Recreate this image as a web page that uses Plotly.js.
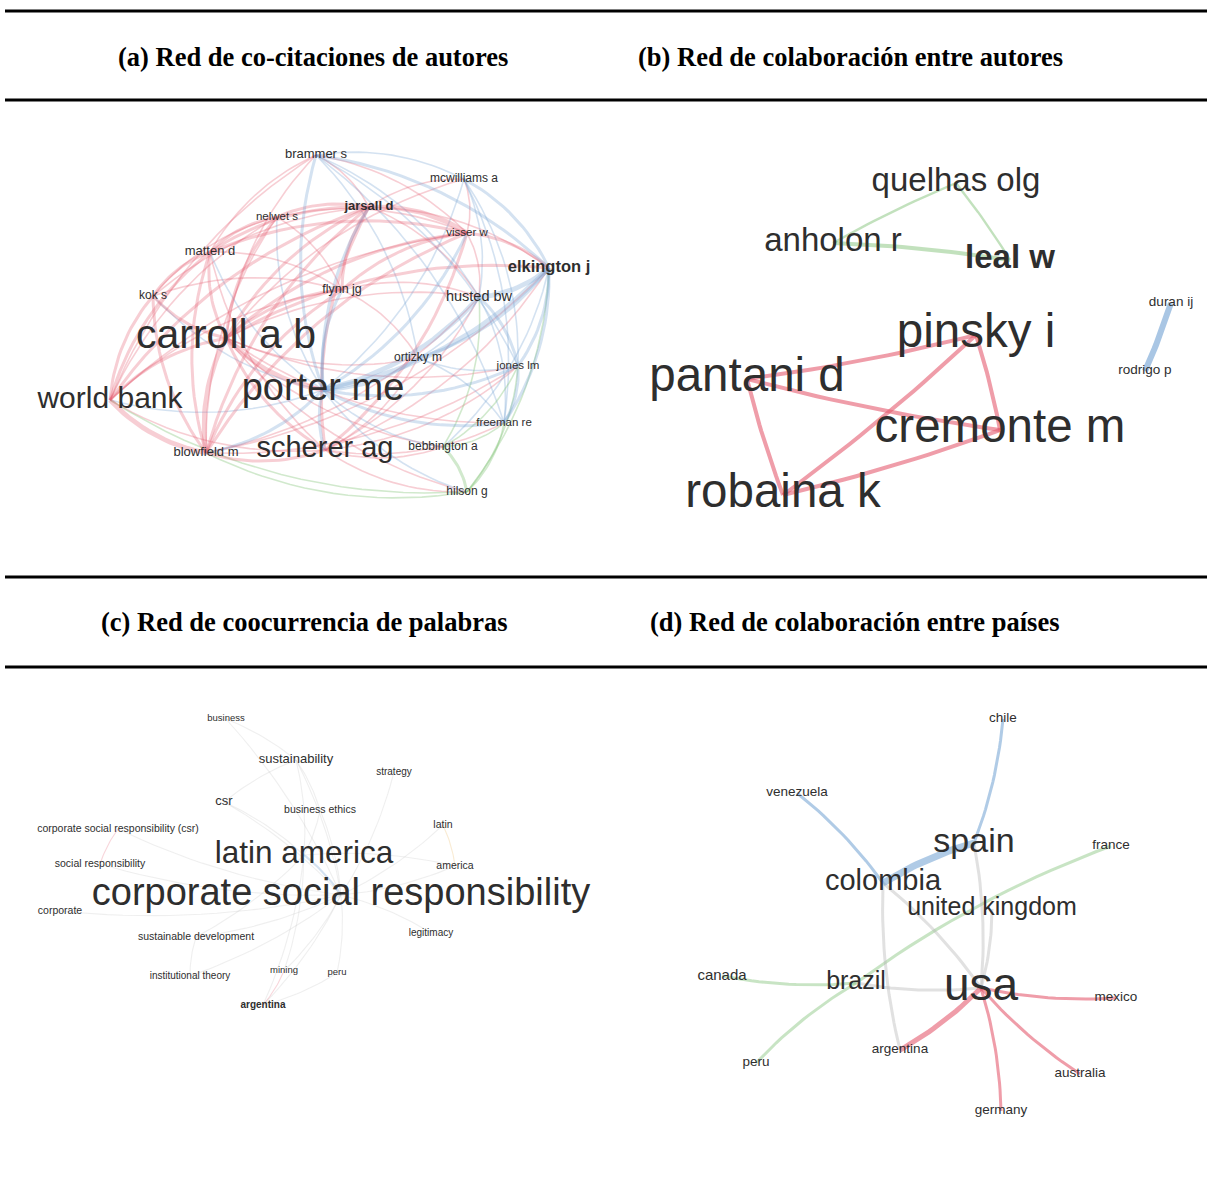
<!DOCTYPE html>
<html>
<head>
<meta charset="utf-8">
<script src="https://cdn.plot.ly/plotly-3.0.1.min.js"></script>
<style>html,body{margin:0;padding:0;background:#fff}#chart{width:1212px;height:1199px}</style>
</head>
<body>
<div id="chart"></div>
<script>
// ---------------- DATA ----------------
const panelTitles = [
  "(a) Red de co-citaciones de autores",
  "(b) Red de colaboración entre autores",
  "(c) Red de coocurrencia de palabras",
  "(d) Red de colaboración entre países"
];

// (a) co-citation network of authors
const aLabels = ["brammer s","mcwilliams a","nelwet s","jarsall d","matten d","visser w","elkington j","kok s","flynn jg","husted bw",
                 "carroll a b","ortizky m","jones lm","porter me","world bank","freeman re","blowfield m","scherer ag","bebbington a","hilson g"];
const aX = [316,464,277,369,210,467,549,153,342,479,226,418,518,323,110,504,206,325,443,467];
const aY = [155,179,217,207,252,233,268,296,290,297,338,358,366,390,400,423,453,450,447,492];
const aWeight = [13,12,11.5,13,13,11.5,16.5,12,12.5,14.5,41,12,11.5,38,30,11.5,13,29,12,12];
const aCluster = ["b","b","r","r","r","r","b","r","r","b","r","b","b","b","r","b","r","r","g","g"];
const aBold = [0,0,0,1,0,0,1,0,0,0,0,0,0,0,0,0,0,0,0,0];
const aLinks = [
  [10,0,1],[10,1,1],[10,2,2],[10,3,2],[10,4,2],[10,5,2],[10,6,2],[10,7,2],[10,8,2],[10,9,1],[10,11,1],[10,12,1],[10,13,3],[10,14,2],[10,15,1],[10,16,3],[10,17,2],[10,18,1],[10,19,1],
  [13,0,2],[13,1,1],[13,2,1],[13,3,2],[13,4,1],[13,5,2],[13,6,3],[13,7,1],[13,8,2],[13,9,3],[13,11,2],[13,12,2],[13,14,1],[13,15,2],[13,16,2],[13,17,2],[13,18,1],[13,19,1],
  [14,7,2],[14,4,2],[14,2,1],[14,3,2],[14,16,3],[14,17,1],[14,8,1],[14,5,1],[14,0,1],
  [16,7,2],[16,4,2],[16,2,1],[16,3,2],[16,5,2],[16,8,2],[16,17,2],[16,9,1],[16,12,1],[16,6,1],
  [17,4,1],[17,3,2],[17,5,2],[17,6,1],[17,9,1],[17,12,1],[17,15,1],[17,18,1],[17,19,1],[17,11,1],
  [4,7,2],[4,2,2],[4,3,2],[4,5,2],[4,8,1],[4,0,1],
  [7,2,1],[7,3,1],[7,8,1],
  [3,2,2],[3,5,3],[3,8,2],[3,0,1],[3,1,1],[3,6,1],[3,9,1],
  [5,2,1],[5,8,2],[5,1,1],[5,6,2],[5,9,1],[5,0,1],
  [8,2,1],[8,9,1],[8,11,1],
  [0,1,1],[0,6,2],[0,9,1],[0,12,1],[0,11,1],[0,15,1],
  [1,6,2],[1,9,1],[1,12,1],[1,15,1],
  [6,9,3],[6,12,2],[6,11,2],[6,15,2],[6,18,1],
  [9,12,2],[9,11,1],[9,15,1],
  [12,15,2],[12,11,1],
  [11,15,1],
  [19,18,2],[19,6,1],[19,15,1],[19,12,1],[19,16,1],[19,14,1],
  [18,15,1],[18,12,1],[18,9,1]
];

// (b) collaboration network of authors
const bLabels = ["quelhas olg","anholon r","leal w","pinsky i","pantani d","cremonte m","robaina k","duran ij","rodrigo p"];
const bX = [956,833,1010,976,747,1000,783,1171,1145];
const bY = [183,243,260,335,379,430,495,303,371];
const bWeight = [33,33,33,47.5,47.5,47.5,47.5,13.5,13.5];
const bCluster = ["g","g","g","r","r","r","r","b","b"];
const bBold = [0,0,1,0,0,0,0,0,0];
const bLinks = [[4,3,2],[4,5,2],[4,6,2],[3,5,2],[3,6,2],[6,5,2],[0,1,1],[0,2,1],[1,2,2],[7,8,3]];

// (c) keyword co-occurrence network
const cLabels = ["business","sustainability","strategy","csr","business ethics","corporate social responsibility (csr)","latin",
                 "latin america","social responsibility","america","corporate social responsibility","corporate",
                 "sustainable development","legitimacy","institutional theory","mining","peru","argentina"];
const cX = [226,296,394,224,320,118,443,304,100,455,341,60,196,431,190,284,337,263];
const cY = [719,760,772,802,810,829,825,855,864,866,895,911,937,933,976,971,973,1005];
const cWeight = [9.5,13,10,13,10.5,10.5,10.5,31.5,10.5,10.5,38,10.5,10.5,10,10,9.5,9.5,10];
const cBold = [0,0,0,0,0,0,0,0,0,0,0,0,0,0,0,0,0,1];
const cLinks = [
  [10,0,1,"k"],[10,1,1,"k"],[10,2,1,"k"],[10,3,1,"k"],[10,4,1,"k"],[10,5,1,"k"],[10,6,1,"k"],[10,7,2,"b"],[10,8,1,"k"],[10,9,1,"k"],
  [10,11,1,"k"],[10,12,1,"k"],[10,13,1,"k"],[10,14,1,"k"],[10,15,1,"k"],[10,16,1,"k"],[10,17,1,"k"],
  [7,1,1,"k"],[7,3,1,"k"],[7,4,1,"k"],[7,9,1,"k"],[7,12,1,"k"],[7,15,1,"k"],[7,17,1,"k"],
  [1,4,1,"k"],[1,0,1,"k"],[3,1,1,"k"],[6,9,1,"o"],[5,8,1,"r"],[12,14,1,"k"],[15,17,1,"r"],[16,17,1,"k"]
];

// (d) collaboration network of countries
const dLabels = ["chile","venezuela","spain","france","colombia","united kingdom","canada","brazil","usa","mexico","argentina","peru","australia","germany"];
const dX = [1003,797,974,1111,883,992,722,856,981,1116,900,756,1080,1001];
const dY = [719,793,843,846,883,909,976,983,988,998,1050,1063,1074,1111];
const dWeight = [13.5,13.5,34,13.5,29,25,15,25,46,13.5,13.5,13.5,13.5,13.5];
const dBold = [0,0,0,0,0,0,0,0,0,0,0,0,0,0];
const dLinks = [
  [1,4,1,"b"],[4,2,3,"b"],[2,0,1,"b"],
  [7,3,1,"g"],[6,7,1,"g"],[11,7,1,"g"],
  [8,9,1,"r"],[8,10,2,"r"],[8,12,1,"r"],[8,13,1,"r"],
  [7,8,1,"k"],[4,8,1,"k"],[2,8,1,"k"],[5,8,1,"k"],[4,10,1,"k"]
];

// ---------------- STYLE ----------------
const RGB = {r:"228,92,112", b:"112,160,210", g:"134,196,124", k:"180,180,180", o:"236,190,110"};
const SANS = "Liberation Sans, Arial, Helvetica, sans-serif";
const SERIF = "Liberation Serif, Times New Roman, serif";
const TEXTCOL = "#2e2e2e";

const traces = [];

function bezier(x0,y0,x1,y1,k,cx0,cy0){
  const mx=(x0+x1)/2, my=(y0+y1)/2, dx=x1-x0, dy=y1-y0;
  // two candidate control points, keep the one further from the panel centre (outward bulge)
  const c1=[mx-k*dy, my+k*dx], c2=[mx+k*dy, my-k*dx];
  const d1=Math.hypot(c1[0]-cx0,c1[1]-cy0), d2=Math.hypot(c2[0]-cx0,c2[1]-cy0);
  const c = d1>=d2 ? c1 : c2;
  const xs=[], ys=[];
  const n=18;
  for(let i=0;i<=n;i++){
    const t=i/n, u=1-t;
    xs.push(u*u*x0+2*u*t*c[0]+t*t*x1);
    ys.push(u*u*y0+2*u*t*c[1]+t*t*y1);
  }
  return [xs,ys];
}

function addNetwork(labels, xs, ys, weights, bold, links, opt){
  const cx0 = xs.reduce((a,b)=>a+b,0)/xs.length;
  const cy0 = ys.reduce((a,b)=>a+b,0)/ys.length;
  const groups = {};
  links.forEach(l=>{
    const s=l[0], t=l[1], w=l[2];
    const col = l[3] || opt.cluster[s];
    const key = col+"_"+w;
    if(!groups[key]) groups[key]={x:[],y:[],col:col,w:w};
    const [bx,by] = bezier(xs[s],ys[s],xs[t],ys[t],opt.curv,cx0,cy0);
    groups[key].x.push(...bx, null);
    groups[key].y.push(...by, null);
  });
  Object.values(groups).sort((a,b)=>a.w-b.w).forEach(g=>{
    traces.push({type:"scatter", mode:"lines", x:g.x, y:g.y, hoverinfo:"skip",
      line:{color:"rgba("+RGB[g.col]+","+opt.alpha[g.col]+")", width:opt.width[g.w-1]}});
  });
  traces.push({type:"scatter", mode:"text", x:xs, y:ys, hoverinfo:"skip",
    text: labels.map((s,i)=> bold[i] ? "<b>"+s+"</b>" : s),
    textposition:"middle center",
    textfont:{family:SANS, size:weights, color:TEXTCOL}});
}

addNetwork(aLabels,aX,aY,aWeight,aBold,aLinks,{cluster:aCluster,curv:0.16,
  alpha:{r:0.3,b:0.3,g:0.38,k:0.3,o:0.3}, width:[1.6,3,4.8]});
addNetwork(bLabels,bX,bY,bWeight,bBold,bLinks,{cluster:bCluster,curv:0.03,
  alpha:{r:0.6,b:0.6,g:0.5,k:0.4,o:0.4}, width:[2.4,4,6]});
addNetwork(cLabels,cX,cY,cWeight,cBold,cLinks,{cluster:[],curv:0.08,
  alpha:{r:0.25,b:0.3,g:0.25,k:0.22,o:0.3}, width:[1.1,2.2,3]});
addNetwork(dLabels,dX,dY,dWeight,dBold,dLinks,{cluster:[],curv:0.07,
  alpha:{r:0.6,b:0.55,g:0.45,k:0.4,o:0.4}, width:[3,5,7]});

// ---------------- LAYOUT ----------------
const ruleY = [11,100,577,667];
const titlePos = [[313,57],[850,57],[304,622],[855,622]];

const layout = {
  width:1212, height:1199,
  margin:{l:0,r:0,t:0,b:0},
  paper_bgcolor:"#ffffff", plot_bgcolor:"#ffffff",
  showlegend:false, hovermode:false,
  xaxis:{range:[0,1212], visible:false, fixedrange:true},
  yaxis:{range:[1199,0], visible:false, fixedrange:true},
  shapes: ruleY.map(y=>({type:"line", xref:"x", yref:"y", x0:5, x1:1207, y0:y, y1:y,
    line:{color:"#000000", width:3}})),
  annotations: panelTitles.map((t,i)=>({text:"<b>"+t+"</b>", x:titlePos[i][0], y:titlePos[i][1],
    xref:"x", yref:"y", showarrow:false, xanchor:"center", yanchor:"middle",
    font:{family:SERIF, size:26.5, color:"#000000"}}))
};

Plotly.newPlot("chart", traces, layout, {staticPlot:true, displayModeBar:false});
</script>
</body>
</html>
